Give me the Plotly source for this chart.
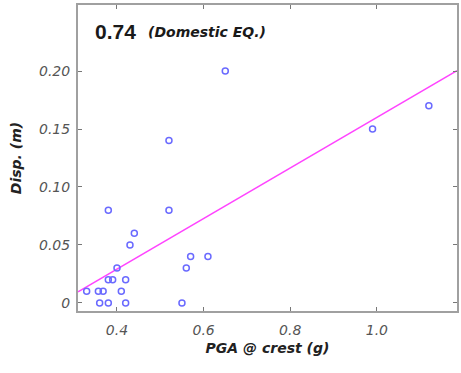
import plotly.graph_objects as go

pga = [0.65, 1.12, 0.99, 0.52, 0.52, 0.38, 0.44, 0.43, 0.57, 0.61, 0.56, 0.40,
       0.38, 0.39, 0.42, 0.33, 0.357, 0.368, 0.41, 0.36, 0.38, 0.42, 0.55]
disp = [0.20, 0.17, 0.15, 0.14, 0.08, 0.08, 0.06, 0.05, 0.04, 0.04, 0.03, 0.03,
        0.02, 0.02, 0.02, 0.01, 0.01, 0.01, 0.01, 0.0, 0.0, 0.0, 0.0]
fit_x = [0.31, 1.185]
fit_slope = 0.218
fit_icpt = -0.058
fit_y = [fit_slope * v + fit_icpt for v in fit_x]

x_ticks = [0.4, 0.6, 0.8, 1.0]
x_text = ["0.4", "0.6", "0.8", "1.0"]
y_ticks = [0, 0.05, 0.10, 0.15, 0.20]
y_text = ["0", "0.05", "0.10", "0.15", "0.20"]

FONT = "DejaVu Sans"

fig = go.Figure()
fig.add_trace(go.Scatter(x=fit_x, y=fit_y, mode="lines",
                         line=dict(color="#ff44ff", width=1.5), showlegend=False))
fig.add_trace(go.Scatter(x=pga, y=disp, mode="markers",
                         marker=dict(symbol="circle-open", size=6,
                                     color="#6a6aff", line=dict(width=1.5)),
                         showlegend=False))

axis_common = dict(showgrid=False, zeroline=False, showline=True, linecolor="#a0a0a0",
                   linewidth=2, mirror="ticks", ticks="inside", ticklen=4,
                   tickcolor="#777", tickwidth=1, automargin=False,
                   tickfont=dict(family=FONT, size=14, color="#555", style="italic"))

fig.update_xaxes(range=[0.31, 1.185], tickvals=x_ticks, ticktext=x_text,
                 ticklabelstandoff=5,
                 title=dict(text="<b><i>PGA @ crest (g)</i></b>", standoff=6,
                            font=dict(family=FONT, size=14, color="#222")),
                 **axis_common)
fig.update_yaxes(range=[-0.007, 0.257], tickvals=y_ticks, ticktext=y_text,
                 ticklabelstandoff=3,
                 title=dict(text="<b><i>Disp. (m)</i></b>", standoff=14,
                            font=dict(family=FONT, size=14, color="#222")),
                 **axis_common)

fig.add_annotation(xref="paper", yref="paper", x=0.04, y=0.915, xanchor="left",
                   yanchor="middle", showarrow=False,
                   text="<b>0.74</b>",
                   font=dict(family="Liberation Sans, Arial", size=21, color="#1a1a1a"))
fig.add_annotation(xref="paper", yref="paper", x=0.18, y=0.913, xanchor="left",
                   yanchor="middle", showarrow=False,
                   text="<b><i>(Domestic EQ.)</i></b>",
                   font=dict(family=FONT, size=14, color="#1a1a1a"))

fig.update_layout(width=461, height=373, margin=dict(l=78, r=4, t=5, b=62),
                  plot_bgcolor="white", paper_bgcolor="white")
fig.write_html("out.html", config={"displayModeBar": False},
               post_script="document.body.style.margin='0';")
